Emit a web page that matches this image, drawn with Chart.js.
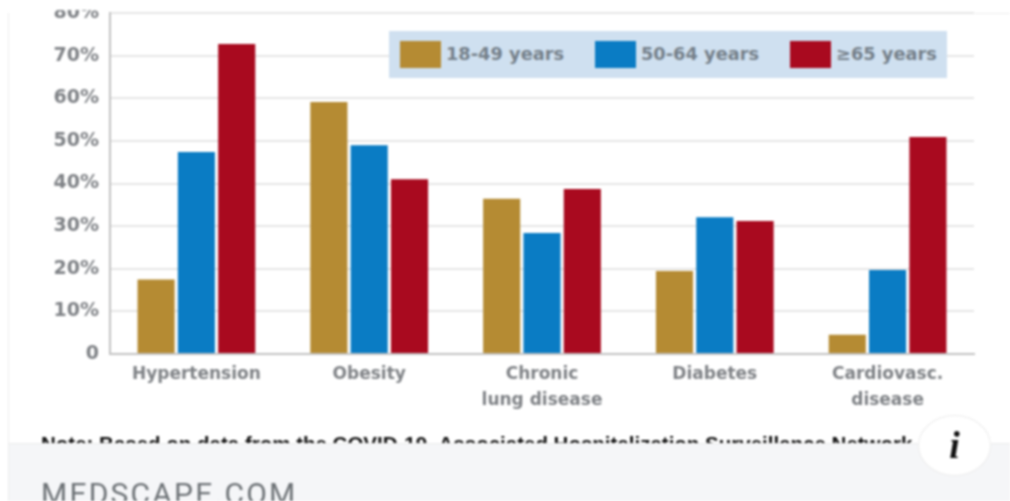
<!DOCTYPE html>
<html lang="en">
<head>
  <meta charset="UTF-8" />
  <title>Underlying conditions by age group</title>
  <script src="https://cdn.jsdelivr.net/npm/chart.js"></script>
  <style>
    html, body { margin: 0; padding: 0; background: #fff; overflow: hidden; }
    #page { position: relative; width: 1010px; height: 501px; overflow: hidden; filter: blur(0.8px); }
    canvas { position: absolute; left: 0; top: 0; }
    #topMask { position: absolute; left: 0; top: 0; width: 1010px; height: 10px; background: #fff; }
    #cardEdge { position: absolute; left: 8px; top: 13px; width: 1px; height: 488px; background: #ececec; }
    #topRule { position: absolute; left: 974px; top: 13px; width: 36px; height: 1px; background: #eee; }
    #legend { position: absolute; left: 389px; top: 31px; width: 558px; height: 47px; background: #cfe0f0; }
    #legend i { position: absolute; top: 10px; width: 41px; height: 27px; }
    #legend span { position: absolute; top: 12px; font: bold 17.8px 'DejaVu Sans', sans-serif; line-height: 22px; color: #75808a; white-space: nowrap; }
    #note { position: absolute; left: 41px; top: 434px; font: bold 20.5px 'Liberation Sans', sans-serif; line-height: 20px; color: #111; white-space: nowrap; }
    #footer { position: absolute; left: 9px; top: 443px; width: 1001px; height: 58px; background: #f5f6f8; border-top: 1px solid #ececec; box-sizing: border-box; }
    #site { position: absolute; left: 41px; top: 478px; font: 400 30px Roboto, sans-serif; letter-spacing: 2.2px; line-height: 32px; color: #6d7276; white-space: nowrap; }
    #info { position: absolute; left: 918px; top: 415px; width: 71px; height: 59px; border-radius: 50%; background: #fff; border: 1px solid #ececec; text-align: center;
            font: italic bold 38px 'Liberation Serif', serif; line-height: 59px; color: #111; }
  </style>
</head>
<body>
  <div id="page">
    <canvas id="chart" width="1010" height="501"></canvas>
    <div id="topMask"></div>
    <div id="cardEdge"></div>
    <div id="topRule"></div>
    <div id="legend"></div>
    <div id="note">Note: Based on data from the COVID-19–Associated Hospitalization Surveillance Network</div>
    <div id="footer"></div>
    <div id="site">MEDSCAPE.COM</div>
    <div id="info">i</div>
  </div>

  <script>
    const categories = ['Hypertension', 'Obesity', ['Chronic', 'lung disease'], 'Diabetes', ['Cardiovasc.', 'disease']];
    const seriesNames = ['18-49 years', '50-64 years', '≥65 years'];
    const seriesColors = ['#b58b33', '#0a7cc4', '#a90a1f'];
    const young = [17.5, 59.1, 36.4, 19.5, 4.5];
    const middle = [47.4, 49, 28.4, 32.1, 19.7];
    const older = [72.7, 41, 38.7, 31.2, 50.9];
    const tickLabels = ['0', '10%', '20%', '30%', '40%', '50%', '60%', '70%', '80%'];

    const swatchLeft = [11, 206, 401];
    const legend = document.getElementById('legend');
    seriesNames.forEach((name, i) => {
      const swatch = document.createElement('i');
      swatch.style.left = swatchLeft[i] + 'px';
      swatch.style.background = seriesColors[i];
      const label = document.createElement('span');
      label.style.left = (swatchLeft[i] + 46) + 'px';
      label.textContent = name;
      legend.append(swatch, label);
    });

    const ctx = document.getElementById('chart').getContext('2d');
    new Chart(ctx, {
      type: 'bar',
      data: {
        labels: categories,
        datasets: [young, middle, older].map((data, i) => ({
          label: seriesNames[i],
          data: data,
          backgroundColor: seriesColors[i],
          borderWidth: 0,
          categoryPercentage: 0.7,
          barPercentage: 0.92
        }))
      },
      options: {
        responsive: false,
        animation: false,
        devicePixelRatio: 1,
        layout: { padding: { top: 13, right: 36, left: 0, bottom: 0 } },
        plugins: { legend: { display: false }, tooltip: { enabled: false } },
        scales: {
          x: {
            afterFit(scale) { scale.height = 147; scale.paddingLeft = 0; scale.paddingRight = 0; },
            grid: { display: false, drawTicks: false },
            border: { color: '#c2c2c2', width: 2 },
            ticks: { color: '#7f8286', padding: 8, maxRotation: 0, autoSkip: false,
                     font: { family: 'DejaVu Sans', size: 17, weight: 'bold', lineHeight: 1.53 } }
          },
          y: {
            min: 0,
            max: 80,
            afterFit(scale) { scale.width = 110; scale.paddingTop = 0; scale.paddingBottom = 0; },
            grid: { color: '#e6e6e6', lineWidth: 2, drawTicks: false },
            border: { color: '#c2c2c2', width: 2 },
            ticks: { stepSize: 10, color: '#7f8286', padding: 11,
                     font: { family: 'DejaVu Sans', size: 19, weight: 'bold' },
                     callback: (value, index) => tickLabels[index] }
          }
        }
      }
    });
  </script>
</body>
</html>
